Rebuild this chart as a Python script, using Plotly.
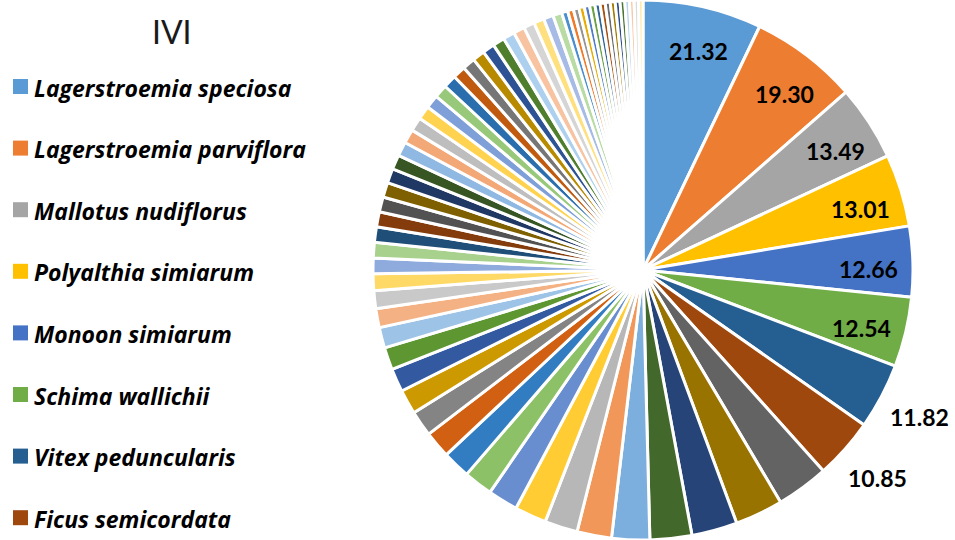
import math
import plotly.graph_objects as go

# ---------------- data ----------------
species = [
    "Lagerstroemia speciosa",
    "Lagerstroemia parviflora",
    "Mallotus nudiflorus",
    "Polyalthia simiarum",
    "Monoon simiarum",
    "Schima wallichii",
    "Vitex peduncularis",
    "Ficus semicordata",
]

ivi_top = [21.32, 19.30, 13.49, 13.01, 12.66, 12.54, 11.82, 10.85]
ivi_rest = [
    9.4, 8.6, 8.2, 7.5,
    6.8, 6.2, 5.9, 5.7, 5.4, 5.2, 5.0, 4.8, 4.6, 4.4, 4.2, 4.0, 3.7, 3.4, 3.2, 3.0, 2.8,
    2.80, 2.75, 2.70, 2.68, 2.65, 2.62, 2.58, 2.55, 2.52, 2.48, 2.45, 2.42, 2.38, 2.35,
    2.30, 2.25, 2.20, 2.16, 2.12, 2.08, 2.02, 1.95, 1.85, 1.75, 1.60,
    1.10, 1.05, 1.00, 0.98, 0.96, 0.95, 0.93, 0.92, 0.90, 0.88, 0.86, 0.85, 0.83, 0.82, 0.80, 0.78,
]
ivi = ivi_top + ivi_rest

palette = [
    "#5B9BD5", "#ED7D31", "#A5A5A5", "#FFC000", "#4472C4", "#70AD47",
    "#255E91", "#9E480E", "#636363", "#997300", "#264478", "#43682B",
    "#7CAFDD", "#F1975A", "#B7B7B7", "#FFCD33", "#698ED0", "#8CC168",
    "#327DC2", "#D26012", "#848484", "#CC9A00", "#335AA1", "#5E9732",
    "#9DC3E6", "#F4B183", "#C9C9C9", "#FFD966", "#8FAADC", "#A9D18E",
    "#1F4E79", "#843C0C", "#525252", "#7F6000", "#203864", "#375623",
    "#8FB8E2", "#F3A878", "#BEBEBE", "#FFD34F", "#7E9FD8", "#98C87A",
    "#2A6EAE", "#C05A0E", "#767676", "#B88A00", "#2E5395", "#4F7F2D",
    "#ADD0EE", "#F8C3A0", "#D5D5D5", "#FFE07F", "#A6BBE5", "#B9DBA4",
    "#4A8ED0", "#F07A28", "#959595", "#E6AD00", "#4F7BC9", "#6AA046",
    "#2F6699", "#A95010", "#6B6B6B", "#A37B00", "#2C4D8A", "#4A7430",
    "#B4D2EE", "#F8C8A8", "#DADADA", "#FFE699", "#B4C7E7", "#C5E0B4",
]
colors = [palette[i % len(palette)] for i in range(len(ivi))]

# ---------------- layout geometry ----------------
W, H = 955, 540
CX, CY, R = 643, 270, 270          # pie centre / radius in px
FONT_NUM = "Lato, 'Open Sans', sans-serif"
FONT_LEG = "'Open Sans', 'Noto Sans', sans-serif"


def px_to_paper(x, y):
    return x / W, (H - y) / H


fig = go.Figure()
fig.add_trace(go.Pie(
    values=ivi,
    sort=False,
    direction="clockwise",
    rotation=0,
    marker=dict(colors=colors, line=dict(color="white", width=3)),
    textinfo="none",
    hoverinfo="skip",
    showlegend=False,
    domain=dict(x=[(CX - R) / W, (CX + R) / W], y=[0, 1]),
))

annotations = []
total = sum(ivi)
cum = 0.0
for i, v in enumerate(ivi):
    mid = (cum + v / 2) / total * 360
    cum += v
    if i >= len(ivi_top):
        continue
    if i < 6:
        ang, rr = mid + 1.5, 226
    else:
        ang, rr = mid, 313
    x = CX + rr * math.sin(math.radians(ang))
    y = CY - rr * math.cos(math.radians(ang))
    xp, yp = px_to_paper(x, y)
    annotations.append(dict(
        x=xp, y=yp, xref="paper", yref="paper", showarrow=False,
        text=f"<b>{v:.2f}</b>", font=dict(family=FONT_NUM, size=23, color="black"),
        xanchor="center", yanchor="middle",
    ))

# title
tx, ty = px_to_paper(172, 31)
annotations.append(dict(
    x=tx, y=ty, xref="paper", yref="paper", showarrow=False, text="IVI",
    font=dict(family=FONT_NUM, size=32, color="#1a1a1a"), xanchor="center", yanchor="middle",
))

# manual legend (first 8 species)
shapes = []
for i, name in enumerate(species):
    yc = 86.5 + i * 61.6
    x0, y0 = px_to_paper(13, yc - 7.5)
    x1, y1 = px_to_paper(28, yc + 7.5)
    shapes.append(dict(type="rect", xref="paper", yref="paper",
                       x0=x0, x1=x1, y0=y1, y1=y0,
                       fillcolor=colors[i], line=dict(width=0)))
    lx, ly = px_to_paper(32, yc + 1)
    annotations.append(dict(
        x=lx, y=ly, xref="paper", yref="paper", showarrow=False,
        text=f"<b><i>{name}</i></b>", font=dict(family=FONT_LEG, size=23, color="black"),
        xanchor="left", yanchor="middle",
    ))

fig.update_layout(
    width=W, height=H,
    margin=dict(l=0, r=0, t=0, b=0),
    paper_bgcolor="white", plot_bgcolor="white",
    annotations=annotations, shapes=shapes,
    showlegend=False,
)

fig.write_html(
    "out.html",
    config={"displayModeBar": False},
    post_script="document.body.style.margin='0';document.body.style.overflow='hidden';",
)
